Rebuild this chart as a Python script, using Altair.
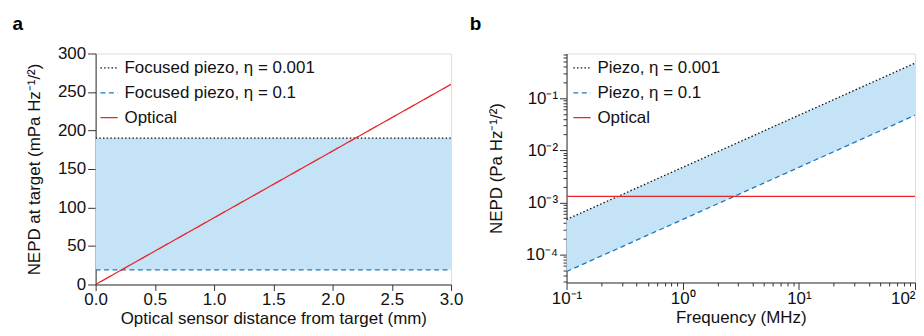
import altair as alt
import pandas as pd

# ---- Panel a data ----
dist = [0.0, 3.0]
a_piezo_001 = [190, 190]
a_piezo_01 = [19, 19]
a_optical = [0, 260]
a_names = ["Focused piezo, η = 0.001", "Focused piezo, η = 0.1", "Optical"]

# ---- Panel b data ----
freq = [0.1, 100.0]
b_piezo_001 = [4.7e-4, 0.47]
b_piezo_01 = [4.7e-5, 0.047]
b_optical = [1.3e-3, 1.3e-3]
b_names = ["Piezo, η = 0.001", "Piezo, η = 0.1", "Optical"]

colors = ["#111111", "#1f78c1", "#e8262a"]
dashes = [[1.5, 2.2], [5, 3.5], [1, 0]]
FILL = "#c5e3f6"
FONT = "Liberation Sans"
FS = 17

def long_df(x, series, names):
    rows = []
    for name, vals in zip(names, series):
        for xv, yv in zip(x, vals):
            rows.append({"x": xv, "y": yv, "series": name})
    return pd.DataFrame(rows)

df_a = long_df(dist, [a_piezo_001, a_piezo_01, a_optical], a_names)
area_a = pd.DataFrame({"x": dist, "y": a_piezo_001, "lo": a_piezo_01})
df_b = long_df(freq, [b_piezo_001, b_piezo_01, b_optical], b_names)
area_b = pd.DataFrame({"x": freq, "y": b_piezo_001, "lo": b_piezo_01})

def legend(x, y):
    return alt.Legend(
        orient="none", legendX=x, legendY=y, title=None, labelFontSize=FS,
        labelFont=FONT, symbolType="stroke", symbolSize=300, symbolStrokeWidth=1.3,
        rowPadding=7, labelColor="#111", labelLimit=400, labelOffset=6,
    )

axis_common = dict(
    grid=False, labelFontSize=FS, titleFontSize=FS, labelFont=FONT,
    titleFont=FONT, titleFontWeight="normal", domainColor="#333",
    tickColor="#333", labelColor="#111", titleColor="#111", labelFlush=False,
    labelOverlap=False, labelBound=False,
)

# ---- Panel a ----
xa_scale = alt.Scale(domain=[0, 3], nice=False, zero=False)
ya_scale = alt.Scale(domain=[0, 300], nice=False)
xa_axis = alt.Axis(title="Optical sensor distance from target (mm)",
                   values=[0, 0.5, 1, 1.5, 2, 2.5, 3], format=".1f",
                   titlePadding=3, tickSize=6, labelPadding=1, **axis_common)
ya_axis = alt.Axis(title="NEPD at target (mPa Hz⁻¹/²)",
                   values=[0, 50, 100, 150, 200, 250, 300],
                   titlePadding=14, tickSize=8, labelPadding=2, **axis_common)

area_a_ch = alt.Chart(area_a).mark_area(color=FILL, opacity=1).encode(
    x=alt.X("x:Q", scale=xa_scale, axis=xa_axis),
    y=alt.Y("y:Q", scale=ya_scale, axis=ya_axis),
    y2="lo:Q",
)
lines_a = alt.Chart(df_a).mark_line(strokeWidth=1.3, clip=True).encode(
    x=alt.X("x:Q", scale=xa_scale, axis=xa_axis),
    y=alt.Y("y:Q", scale=ya_scale, axis=ya_axis),
    color=alt.Color("series:N", scale=alt.Scale(domain=a_names, range=colors),
                    legend=legend(4, 5)),
    strokeDash=alt.StrokeDash("series:N", scale=alt.Scale(domain=a_names, range=dashes),
                              legend=legend(4, 5)),
)
panel_a = alt.layer(area_a_ch, lines_a).properties(
    width=357, height=232,
    title=alt.TitleParams("a", anchor="start", frame="bounds", fontSize=19,
                          fontWeight="bold", font=FONT, dx=-13, offset=11),
)

# ---- Panel b ----
decade_test = "abs(log(datum.value)/LN10 - round(log(datum.value)/LN10)) < 0.001"
sup = "['10⁻⁴','10⁻³','10⁻²','10⁻¹','10⁰','10¹','10²'][round(log(datum.value)/LN10)+4]"
label_expr = f"{decade_test} ? {sup} : ''"

x_minor = [m * 10.0 ** e for e in (-1, 0, 1) for m in range(1, 10)] + [100.0]
y_minor = [m * 1e-5 for m in range(3, 10)] + \
          [m * 10.0 ** e for e in (-4, -3, -2) for m in range(1, 10)] + \
          [m * 0.1 for m in range(1, 8)]

tick_cond = {"condition": {"test": decade_test, "value": 7}, "value": 3.5}
last_test = "datum.value > 50"

xb_scale = alt.Scale(type="log", domain=[0.1, 100], nice=False)
yb_scale = alt.Scale(type="log", domain=[2.9e-5, 0.72], nice=False)
xb_axis = alt.Axis(title="Frequency (MHz)", values=x_minor, labelExpr=label_expr,
                   tickSize=tick_cond, titlePadding=3, labelPadding=1,
                   labelAlign={"condition": {"test": last_test, "value": "right"}, "value": "center"},
                   **axis_common)
yb_axis = alt.Axis(title="NEPD (Pa Hz⁻¹/²)", values=y_minor, labelExpr=label_expr,
                   tickSize=tick_cond, titlePadding=20, labelPadding=2, **axis_common)

area_b_ch = alt.Chart(area_b).mark_area(color=FILL, opacity=1).encode(
    x=alt.X("x:Q", scale=xb_scale, axis=xb_axis),
    y=alt.Y("y:Q", scale=yb_scale, axis=yb_axis),
    y2="lo:Q",
)
lines_b = alt.Chart(df_b).mark_line(strokeWidth=1.3, clip=True).encode(
    x=alt.X("x:Q", scale=xb_scale, axis=xb_axis),
    y=alt.Y("y:Q", scale=yb_scale, axis=yb_axis),
    color=alt.Color("series:N", scale=alt.Scale(domain=b_names, range=colors),
                    legend=legend(6, 5)),
    strokeDash=alt.StrokeDash("series:N", scale=alt.Scale(domain=b_names, range=dashes),
                              legend=legend(6, 5)),
)
panel_b = alt.layer(area_b_ch, lines_b).properties(
    width=350, height=230,
    title=alt.TitleParams("b", anchor="start", frame="bounds", fontSize=19,
                          fontWeight="bold", font=FONT, dx=-18, offset=11),
)

chart = alt.hconcat(panel_a, panel_b, spacing=5).resolve_scale(
    color="independent", strokeDash="independent"
).configure_view(stroke="#333", strokeWidth=1).configure(
    padding={"left": 4, "top": 5, "right": 0, "bottom": 0}
)

chart.save("out.html", embed_options={"renderer": "svg", "actions": False})
